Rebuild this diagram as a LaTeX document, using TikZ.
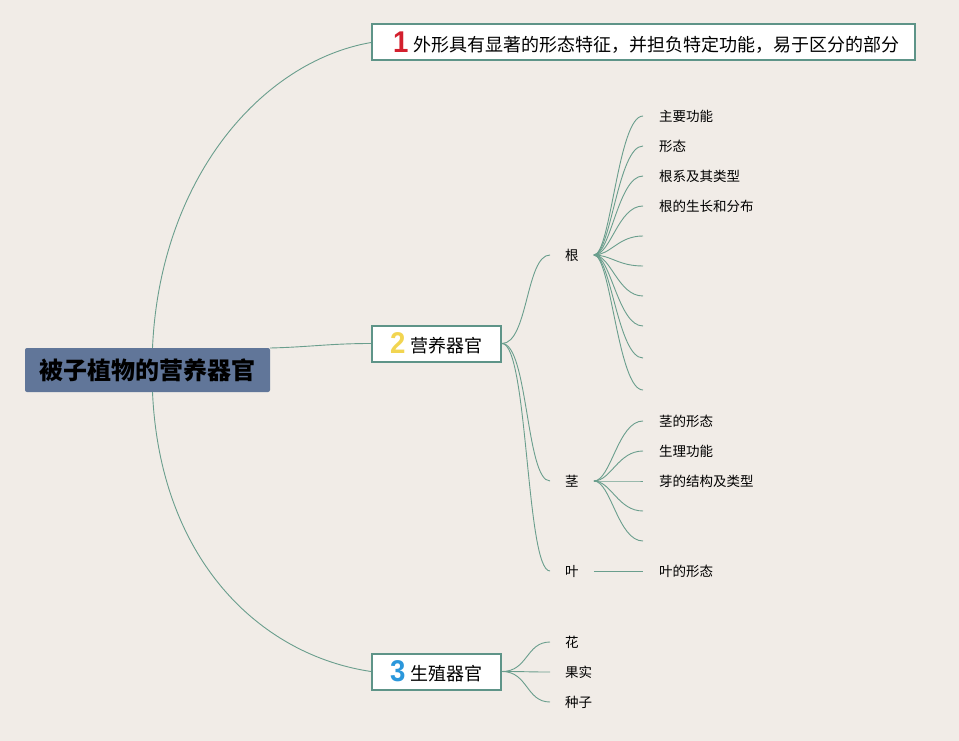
\documentclass[tikz,border=0pt]{standalone}
\usepackage{fontspec}
\newfontfamily\cjk{Noto Sans CJK SC}
\newfontfamily\numfont{Liberation Sans}
\definecolor{bg}{HTML}{F1ECE7}
\definecolor{rootfill}{HTML}{617699}
\definecolor{boxline}{HTML}{5E9488}
\definecolor{link}{HTML}{6A9E8D}
\definecolor{numred}{HTML}{D3202E}
\definecolor{numyellow}{HTML}{F2D551}
\definecolor{numblue}{HTML}{2B97DB}
\tikzset{
  rootbox/.style={fill=rootfill, rounded corners=2pt, minimum width=245pt, minimum height=44pt, inner sep=0pt,
    font=\cjk\bfseries\fontsize{24}{26}\selectfont},
  topicbox/.style={draw=boxline, line width=2pt, fill=white, minimum height=36pt, inner sep=0pt, anchor=west,
    font=\cjk\fontsize{18}{20}\selectfont},
  lbl/.style={anchor=west, inner xsep=15pt, inner ysep=2pt, font=\cjk\fontsize{13.5}{15}\selectfont},
  leaf/.style={anchor=west, inner xsep=16pt, inner ysep=2pt, font=\cjk\fontsize{13.5}{15}\selectfont},
  link/.style={draw=link, line width=0.9pt},
}
\newcommand{\bignum}[2]{{\color{#1}\raisebox{-1.5pt}{\scalebox{0.92}[1]{\numfont\bfseries\fontsize{30}{30}\selectfont #2}}}}
\begin{document}
\begin{tikzpicture}[x=1pt,y=-1pt]
\fill[bg] (0,0) rectangle (959,741);
\useasboundingbox (0,0) rectangle (959,741);

% root
\node[rootbox] (root) at (147.5,370) {被子植物的营养器官};

% topics
\node[topicbox] (n1) at (371,42.5) {\makebox[543pt][l]{\hspace{21pt}\bignum{numred}{1}\hspace{5pt}外形具有显著的形态特征，并担负特定功能，易于区分的部分}};
\node[topicbox] (n2) at (371,343.5) {\makebox[129pt][l]{\hspace{18pt}\bignum{numyellow}{2}\hspace{5pt}营养器官}};
\node[topicbox] (n3) at (371,671.5) {\makebox[129pt][l]{\hspace{18pt}\bignum{numblue}{3}\hspace{5pt}生殖器官}};

% root connectors
\draw[link] ([xshift=5pt]root.north) .. controls (160,180) and (260,62) .. (n1.west);
\draw[link] (root.east |- 0,348) .. controls (310,347) and (330,343.5) .. (n2.west);
\draw[link] ([xshift=5pt]root.south) .. controls (160,560) and (260,655) .. (n3.west);

% level 2 under 营养器官
\node[lbl] (gen) at (550,255) {根};
\node[lbl] (jing) at (550,481) {茎};
\node[lbl] (ye) at (550,571) {叶};
\foreach \t in {gen,jing,ye}
  \draw[link] (n2.east) .. controls +(26,0) and +(-24,0) .. (\t.west);

% 根 leaves
\node[leaf] (g1) at (643,116) {主要功能};
\node[leaf] (g2) at (643,146) {形态};
\node[leaf] (g3) at (643,176) {根系及其类型};
\node[leaf] (g4) at (643,206) {根的生长和分布};
\coordinate (g5) at (643,236);
\coordinate (g6) at (643,266);
\coordinate (g7) at (643,296);
\coordinate (g8) at (643,326);
\coordinate (g9) at (643,358);
\coordinate (g10) at (643,390);
\foreach \t in {g1,g2,g3,g4}
  \draw[link] (gen.east) .. controls +(17,0) and +(-25,0) .. (\t.west);
\foreach \t in {g5,g6,g7,g8,g9,g10}
  \draw[link] (gen.east) .. controls +(17,0) and +(-25,0) .. (\t);

% 茎 leaves
\node[leaf] (j1) at (643,421) {茎的形态};
\node[leaf] (j2) at (643,451) {生理功能};
\node[leaf] (j3) at (643,481) {芽的结构及类型};
\coordinate (j4) at (643,511);
\coordinate (j5) at (643,541);
\foreach \t in {j1,j2,j3}
  \draw[link] (jing.east) .. controls +(17,0) and +(-25,0) .. (\t.west);
\foreach \t in {j4,j5}
  \draw[link] (jing.east) .. controls +(17,0) and +(-25,0) .. (\t);

% 叶 leaf
\node[leaf] (y1) at (643,571) {叶的形态};
\draw[link] (ye.east) -- (y1.west);

% 生殖器官 children
\node[lbl] (hua) at (550,642) {花};
\node[lbl] (guo) at (550,672) {果实};
\node[lbl] (zhong) at (550,702) {种子};
\foreach \t in {hua,guo,zhong}
  \draw[link] (n3.east) .. controls +(26,0) and +(-24,0) .. (\t.west);
\end{tikzpicture}
\end{document}
